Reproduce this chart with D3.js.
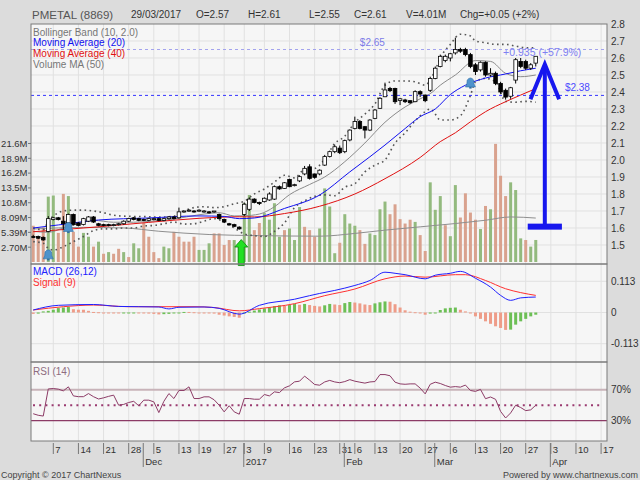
<!DOCTYPE html>
<html>
<head>
<meta charset="utf-8">
<script src="https://cdn.jsdelivr.net/npm/d3@7"></script>
<style>
  body { margin: 0; background: #dcdcdc; }
  svg { display: block; font-family: "Liberation Sans", Arial, sans-serif; }
</style>
</head>
<body>
<svg id="chart" width="640" height="480"></svg>
<script>
// ---------- data ----------
const holidays = ["2016-12-12", "2016-12-26", "2017-01-02", "2017-01-30", "2017-02-01", "2017-02-09"];
const firstDay = "2016-11-01", lastDay = "2017-04-21";
const monthNames = ["Jan","Feb","Mar","Apr","May","Jun","Jul","Aug","Sep","Oct","Nov","Dec"];

const opens = [1.55,1.55,1.545,1.58,1.65,1.66,1.64,1.63,1.68,1.63,
  1.62,1.64,1.665,1.625,1.62,1.62,1.615,1.62,1.625,1.64,
  1.66,1.655,1.65,1.645,1.65,1.655,1.645,1.655,1.665,1.66,
  1.695,1.70,1.70,1.70,1.70,1.695,1.695,1.68,1.65,1.625,
  1.62,1.605,1.68,1.71,1.77,1.75,1.755,1.765,1.77,1.843,
  1.833,1.886,1.85,1.877,1.918,1.96,1.918,1.918,1.97,2.02,
  2.049,2.07,2.049,2.118,2.186,2.226,2.196,2.176,2.245,2.304,
  2.372,2.421,2.421,2.35,2.353,2.349,2.343,2.402,2.382,2.41,
  2.48,2.55,2.585,2.60,2.63,2.65,2.65,2.62,2.56,2.53,
  2.575,2.50,2.51,2.45,2.41,2.375,2.47,2.58,2.58,2.54,
  2.57];
const highs = [1.56,1.555,1.55,1.67,1.665,1.665,1.67,1.685,1.685,1.635,
  1.66,1.67,1.67,1.63,1.625,1.625,1.625,1.63,1.645,1.66,
  1.665,1.66,1.655,1.66,1.66,1.66,1.66,1.67,1.67,1.72,
  1.70,1.71,1.705,1.71,1.705,1.70,1.70,1.685,1.655,1.63,
  1.625,1.61,1.75,1.78,1.775,1.755,1.78,1.81,1.85,1.85,
  1.87,1.89,1.86,1.91,1.965,1.975,1.92,1.945,2.03,2.055,
  2.09,2.085,2.12,2.18,2.255,2.235,2.20,2.24,2.30,2.37,
  2.455,2.43,2.425,2.365,2.36,2.35,2.41,2.41,2.385,2.49,
  2.55,2.62,2.62,2.63,2.72,2.66,2.66,2.63,2.57,2.58,
  2.58,2.54,2.52,2.46,2.42,2.43,2.60,2.60,2.59,2.57,
  2.61];
const lows = [1.54,1.535,1.525,1.575,1.645,1.645,1.59,1.62,1.615,1.61,
  1.615,1.635,1.63,1.61,1.61,1.61,1.61,1.615,1.62,1.635,
  1.645,1.64,1.64,1.64,1.645,1.64,1.64,1.65,1.65,1.655,
  1.69,1.695,1.69,1.695,1.69,1.685,1.69,1.65,1.63,1.615,
  1.605,1.59,1.67,1.70,1.745,1.735,1.75,1.76,1.765,1.825,
  1.83,1.84,1.845,1.87,1.91,1.885,1.89,1.91,1.965,2.015,
  2.04,2.035,2.04,2.11,2.18,2.18,2.127,2.17,2.24,2.30,
  2.37,2.40,2.33,2.323,2.335,2.33,2.34,2.37,2.34,2.40,
  2.475,2.545,2.575,2.58,2.62,2.63,2.61,2.54,2.50,2.52,
  2.49,2.49,2.44,2.39,2.355,2.36,2.45,2.54,2.53,2.53,
  2.55];
const closes = [1.545,1.54,1.53,1.655,1.66,1.65,1.625,1.68,1.62,1.615,
  1.655,1.665,1.635,1.615,1.615,1.615,1.62,1.625,1.64,1.655,
  1.65,1.645,1.645,1.655,1.655,1.645,1.655,1.665,1.655,1.695,
  1.70,1.705,1.695,1.705,1.70,1.69,1.70,1.655,1.635,1.618,
  1.61,1.595,1.74,1.77,1.75,1.745,1.775,1.80,1.843,1.83,
  1.866,1.843,1.855,1.902,1.951,1.892,1.898,1.94,2.02,2.049,
  2.078,2.043,2.114,2.176,2.226,2.186,2.176,2.235,2.294,2.363,
  2.412,2.408,2.343,2.36,2.343,2.337,2.402,2.388,2.349,2.48,
  2.54,2.61,2.61,2.625,2.65,2.64,2.62,2.55,2.52,2.575,
  2.50,2.51,2.45,2.40,2.37,2.425,2.59,2.55,2.54,2.56,
  2.61];

// volume in millions, and bar colour (g = up, r = down)
const volumes = [6.6,4.6,6.3,11.9,12.1,5.3,12.4,12.0,5.5,2.8,
  5.3,4.6,2.8,3.7,1.5,1.8,1.5,2.4,1.8,0.9,
  3.4,2.5,7.1,4.6,1.8,0.7,2.8,2.5,5.5,4.6,
  3.7,3.7,4.6,2.2,2.2,3.4,5.2,5.2,3.1,4.0,
  4.0,3.4,10.7,12.2,5.8,7.1,8.9,7.7,10.7,4.6,
  5.8,6.1,4.0,10.0,6.4,5.8,4.6,6.1,13.4,10.1,
  1.6,3.5,8.7,7.0,6.6,5.8,3.3,5.2,4.9,9.6,
  11.0,8.7,10.5,7.8,7.0,7.7,7.3,4.9,2.0,14.5,
  9.5,12.0,6.7,4.7,14.0,8.1,12.5,9.0,7.7,6.0,
  10.2,9.6,21.5,15.7,12.0,14.5,13.1,4.3,4.0,2.8,
  4.01];
const volColors = "rrrggrrgrr" + "ggrgrgrrgr" + "ggrrrrggrr" + "rrrgggrrrr" + "ggggrrgggg" +
  "rgggrrrggg" + "grgggrrggg" + "grrrrrgrrg" + "ggrggrrrrg" + "rgrrrgggrg" + "g";
const volTickVals = [2.696, 5.393, 8.089, 10.785, 13.482, 16.178, 18.874, 21.571];

// indicator lines as [day index, value]
const volMA50 = [[0,6.0],[10,6.3],[18,6.2],[25,5.6],[35,5.0],[45,4.8],[57,4.7],[64,5.2],[70,5.8],
  [77,6.4],[84,7.0],[90,7.6],[95,8.2],[100,8.0]];
const ma10 = [[0,1.58],[3,1.575],[6,1.60],[9,1.625],[12,1.645],[16,1.634],[20,1.634],[24,1.641],
  [28,1.653],[31,1.668],[34,1.682],[37,1.69],[40,1.671],[42,1.672],[45,1.682],[48,1.725],[51,1.796],
  [55,1.856],[58,1.90],[62,1.99],[66,2.10],[70,2.222],[74,2.312],[77,2.36],[79,2.39],[81,2.44],
  [84,2.50],[88,2.585],[91,2.58],[94,2.51],[97,2.49],[100,2.50]];
const ma20 = [[0,1.60],[5,1.618],[13,1.647],[23,1.659],[33,1.671],[38,1.668],[41,1.655],[44,1.659],
  [50,1.715],[57,1.794],[63,1.93],[67,2.019],[70,2.088],[74,2.185],[77,2.255],[80,2.30],[83,2.385],
  [86,2.44],[90,2.482],[94,2.506],[97,2.525],[100,2.54]];
const ma40 = [[0,1.578],[13,1.607],[23,1.633],[33,1.657],[41,1.666],[44,1.665],[50,1.685],[57,1.728],
  [64,1.80],[70,1.89],[77,2.015],[81,2.108],[84,2.16],[87,2.225],[90,2.284],[94,2.343],[97,2.382],[100,2.42]];
// Bollinger band: [day, upper, lower]
const bollinger = [[0,1.60,1.52],[2,1.59,1.51],[3,1.64,1.48],[4,1.67,1.47],[6,1.70,1.49],[8,1.705,1.52],
  [10,1.705,1.55],[12,1.70,1.585],[14,1.69,1.595],[16,1.675,1.595],[18,1.67,1.60],[20,1.668,1.60],
  [22,1.667,1.612],[24,1.665,1.615],[26,1.665,1.625],[28,1.67,1.635],[30,1.70,1.623],[32,1.72,1.625],
  [34,1.725,1.64],[36,1.72,1.655],[38,1.725,1.635],[40,1.743,1.60],[42,1.757,1.565],[44,1.80,1.555],
  [46,1.83,1.55],[48,1.87,1.58],[50,1.91,1.63],[52,1.895,1.72],[54,1.945,1.76],[56,1.95,1.786],
  [58,2.005,1.795],[60,2.097,1.79],[62,2.14,1.84],[64,2.22,1.86],[66,2.27,1.93],[68,2.33,1.97],
  [70,2.44,2.00],[72,2.465,2.10],[74,2.465,2.16],[76,2.46,2.23],[78,2.44,2.285],[79,2.47,2.30],
  [80,2.53,2.27],[81,2.60,2.235],[83,2.68,2.235],[85,2.74,2.26],[87,2.73,2.38],[88,2.70,2.46],
  [90,2.69,2.48],[92,2.68,2.46],[94,2.68,2.345],[96,2.67,2.34],[98,2.66,2.345],[100,2.66,2.34]];

const macdLine = [[0,0.009],[5,0.026],[12,0.029],[17,0.022],[25,0.02],[27,0.013],[29,0.019],[34,0.02],
  [37,0.015],[41,-0.006],[45,0.026],[52,0.048],[55,0.061],[57,0.069],[60,0.08],[64,0.098],[67,0.116],
  [70,0.146],[72,0.142],[74,0.137],[78,0.122],[80,0.135],[83,0.142],[85,0.149],[88,0.124],[91,0.092],
  [93,0.062],[95,0.044],[97,0.053],[100,0.056]];
const signalLine = [[0,0.009],[6,0.021],[12,0.027],[19,0.021],[32,0.021],[36,0.018],[41,0.006],
  [45,0.014],[52,0.032],[58,0.061],[64,0.085],[70,0.122],[74,0.132],[78,0.128],[84,0.137],[86,0.137],
  [90,0.116],[94,0.086],[97,0.072],[100,0.062]];
const macdHist = [-0.005,-0.004,0.004,0.006,0.01,0.016,0.018,0.02,0.012,0.01,
  0.01,0.006,0.002,0.001,-0.001,-0.002,-0.002,-0.003,-0.002,-0.001,
  0.0,-0.002,-0.003,-0.004,-0.005,-0.007,-0.006,-0.005,-0.003,0.0,
  0.002,0.002,0.001,0.0,-0.001,-0.002,-0.004,-0.008,-0.011,-0.014,
  -0.016,-0.019,-0.004,0.003,0.007,0.011,0.015,0.019,0.023,0.026,
  0.024,0.027,0.031,0.028,0.031,0.027,0.024,0.022,0.026,0.031,
  0.029,0.027,0.034,0.038,0.036,0.033,0.029,0.027,0.033,0.037,
  0.040,0.039,0.030,0.018,0.008,0.003,0.001,-0.001,-0.008,-0.004,
  0.0,0.009,0.015,0.017,0.018,0.01,0.004,-0.002,-0.014,-0.023,
  -0.032,-0.041,-0.05,-0.056,-0.063,-0.062,-0.044,-0.032,-0.023,-0.014,
  -0.008];
const rsi = [39,37,36,71,71.5,70.7,68.5,73.7,62,61,
  61,65,61,58,59.5,61.4,63,50,51,53.5,
  55,49.3,56.5,56.5,54.3,40.5,55,65,58.6,69,
  69,73.7,58.6,58.6,60.8,60.8,57,50,41.4,49.3,
  41.4,38.4,58.6,58.6,57.7,57.7,63.8,62,67.2,66.3,
  72.4,75,80.1,81,87.5,82.3,76.7,75.8,80,82,
  80,79,80.5,83,81,79.7,78.5,80,80.5,89.5,
  89.5,88,79.7,77.5,77,77.5,77.5,72,64.6,77,
  79.7,78,75.4,73.3,74,73.3,76,69,67.8,70.4,
  58.4,60.6,57.6,42,33.5,40,50,47,43,44,
  50];

const priceTicks = [1.5,1.6,1.7,1.8,1.9,2.0,2.1,2.2,2.3,2.4,2.5,2.6,2.7,2.8];
const macdTicks = [0.113, 0, -0.113];
const rsiTicks = [70, 30];
const headerTitle = "PMETAL (8869)";
const headerItems = ["29/03/2017", "O=2.57", "H=2.61", "L=2.55", "C=2.61", "V=4.01M", "Chg=+0.05 (+2%)"];
const priceLevels = [{v: 2.65, label: "$2.65", at: 65}, {v: 2.38, label: "$2.38", at: 105.8}];
const bells = [[3, 1.445], [7, 1.606], [87, 2.456]];        // alert icons [day, price]
const gainText = {text: "+0.935 (+57.9%)", at: 93.5, v: 2.612};
const bigArrow = {at: 101.8, low: 1.608, high: 2.563, wing: 2.357, half: 2.85};
const greenArrow = {at: 41.4, tip: 1.532};

// ---------- layout ----------
const L = 31, R = 607;
const mainTop = 24, mainBot = 264, macdBot = 362, rsiBot = 441;

const svg = d3.select("#chart");
const x = d3.scaleLinear().domain([0, 113]).range([33.2, 601.1]);
const yP = d3.scaleLinear().domain([1.5, 2.8]).range([245, 24]);
const yV = d3.scaleLinear().domain([0, 21.57]).range([262, 143.5]);
const yM = d3.scaleLinear().domain([-0.113, 0.113]).range([343.7, 281.3]);
const yR = d3.scaleLinear().domain([30, 70]).range([420.7, 389.7]);

// trading calendar (weekends and exchange holidays skipped)
const days = [];
for (let d = new Date(firstDay + "T00:00:00Z"); d <= new Date(lastDay + "T00:00:00Z"); d = new Date(d.getTime() + 864e5)) {
  const wd = d.getUTCDay();
  if (wd === 0 || wd === 6 || holidays.includes(d.toISOString().slice(0, 10))) continue;
  days.push(d);
}
const weekTicks = [], monthTicks = [];
days.forEach((d, i) => {
  if (i === 0) return;
  const p = days[i - 1];
  if (d.getUTCDay() < p.getUTCDay() || d - p >= 7 * 864e5) weekTicks.push({i, label: d.getUTCDate()});
  if (d.getUTCMonth() !== p.getUTCMonth())
    monthTicks.push({i, label: d.getUTCMonth() === 0 ? String(d.getUTCFullYear()) : monthNames[d.getUTCMonth()]});
});

svg.append("rect").attr("width", 640).attr("height", 480).attr("fill", "#dcdcdc");

// panels
[[mainTop, mainBot], [mainBot, macdBot], [macdBot, rsiBot]].forEach(([t, b]) => {
  svg.append("rect").attr("x", L).attr("y", t).attr("width", R - L).attr("height", b - t)
    .attr("fill", "#f6f6f6");
});

const grid = svg.append("g").attr("stroke", "#e1e1e1").attr("stroke-width", 1);
weekTicks.forEach(t => {
  grid.append("line").attr("x1", x(t.i)).attr("x2", x(t.i)).attr("y1", mainTop).attr("y2", rsiBot);
});
priceTicks.slice(0, -1).forEach(v => {
  grid.append("line").attr("x1", L).attr("x2", R).attr("y1", yP(v)).attr("y2", yP(v));
});
macdTicks.forEach(v => {
  grid.append("line").attr("x1", L).attr("x2", R).attr("y1", yM(v)).attr("y2", yM(v));
});

svg.append("clipPath").attr("id", "mainClip").append("rect")
  .attr("x", L).attr("y", mainTop).attr("width", R - L).attr("height", mainBot - mainTop);
const main = svg.append("g").attr("clip-path", "url(#mainClip)");

// volume bars
main.append("g").selectAll("rect").data(volumes).join("rect")
  .attr("x", (d, i) => x(i) - 1.5).attr("width", 3)
  .attr("y", d => yV(d)).attr("height", d => yV(0) - yV(d))
  .attr("fill", (d, i) => volColors[i] === "g" ? "#93ba7e" : "#d9a28e");

const lineP = d3.line().x(d => x(d[0])).y(d => yP(d[1])).curve(d3.curveMonotoneX);

main.append("path").datum(volMA50)
  .attr("d", d3.line().x(d => x(d[0])).y(d => yV(d[1])).curve(d3.curveMonotoneX))
  .attr("fill", "none").attr("stroke", "#8f8f8f").attr("stroke-width", 1);

// Bollinger band
[1, 2].forEach(k => {
  main.append("path").datum(bollinger.map(d => [d[0], d[k]]))
    .attr("d", lineP).attr("fill", "none").attr("stroke", "#555")
    .attr("stroke-width", 1.6).attr("stroke-dasharray", "1.6,3.4");
});
main.append("path").datum(ma10).attr("d", lineP).attr("fill", "none").attr("stroke", "#8a8a8a").attr("stroke-width", 1);
main.append("path").datum(ma40).attr("d", lineP).attr("fill", "none").attr("stroke", "#e01010").attr("stroke-width", 1);
main.append("path").datum(ma20).attr("d", lineP).attr("fill", "none").attr("stroke", "#1010f0").attr("stroke-width", 1);

// price level lines
priceLevels.forEach((lv, k) => {
  const col = k === 0 ? "#a3a3ee" : "#3535ff";
  main.append("line").attr("x1", L).attr("x2", R).attr("y1", yP(lv.v)).attr("y2", yP(lv.v))
    .attr("stroke", col).attr("stroke-dasharray", "3,3");
  main.append("text").attr("x", x(lv.at)).attr("y", yP(lv.v) - 4).text(lv.label)
    .attr("font-size", 10).attr("fill", k === 0 ? "#7b7be8" : "#4a4aff");
});

// candles
const candles = main.append("g");
closes.forEach((c, i) => {
  const o = opens[i], up = c >= o, cx = x(i);
  candles.append("line").attr("x1", cx).attr("x2", cx).attr("y1", yP(highs[i])).attr("y2", yP(lows[i]))
    .attr("stroke", "#000").attr("stroke-width", 1);
  const top = yP(Math.max(o, c)), h = Math.max(1, Math.abs(yP(o) - yP(c)));
  candles.append("rect").attr("x", cx - 1.8).attr("y", top).attr("width", 3.6).attr("height", h)
    .attr("fill", up ? "#fff" : "#000").attr("stroke", "#000").attr("stroke-width", 0.8);
});

// alert bells
bells.forEach(([i, v]) => {
  const g = main.append("g").attr("transform", `translate(${x(i)},${yP(v)})`);
  g.append("path").attr("d", "M-5,4.5 L5,4.5 L3.6,1.5 L3.2,-2.5 Q0,-6.5 -3.2,-2.5 L-3.6,1.5 Z")
    .attr("fill", "#4f93cc").attr("stroke", "#2f6fa6").attr("stroke-width", 0.6);
  g.append("rect").attr("x", -1.2).attr("y", 4.5).attr("width", 2.4).attr("height", 1.6).attr("fill", "#2f6fa6");
});

// gain annotation
main.append("text").attr("x", x(gainText.at)).attr("y", yP(gainText.v)).text(gainText.text)
  .attr("font-size", 10.5).attr("fill", "#8080f2");
const ax = x(bigArrow.at), dx = x(bigArrow.at + bigArrow.half) - ax;
const ba = main.append("g").attr("stroke", "#1717ee").attr("stroke-width", 4).attr("fill", "none");
ba.append("line").attr("x1", ax).attr("x2", ax).attr("y1", yP(bigArrow.low)).attr("y2", yP(bigArrow.high) + 2);
ba.append("path").attr("d", `M${ax - dx},${yP(bigArrow.wing)} L${ax},${yP(bigArrow.high)} L${ax + dx},${yP(bigArrow.wing)}`)
  .attr("stroke-linejoin", "miter");
main.append("rect").attr("x", x(bigArrow.at - 3.4)).attr("y", yP(bigArrow.low) - 3)
  .attr("width", x(bigArrow.at + 3.4) - x(bigArrow.at - 3.4)).attr("height", 6).attr("fill", "#1717ee");

// legend
[["Bollinger Band (10, 2.0)", "#777"], ["Moving Average (20)", "#1010f0"],
 ["Moving Average (40)", "#e01010"], ["Volume MA (50)", "#777"]].forEach(([t, c], k) => {
  svg.append("text").attr("x", 33).attr("y", 35.5 + k * 10.8).text(t).attr("font-size", 10).attr("fill", c);
});

// MACD panel
svg.append("g").selectAll("rect").data(macdHist).join("rect")
  .attr("x", (d, i) => x(i) - 1.5).attr("width", 3)
  .attr("y", d => Math.min(yM(d), yM(0))).attr("height", d => Math.max(1, Math.abs(yM(d) - yM(0))))
  .attr("fill", (d, i) => i > 0 && d > macdHist[i - 1] ? "#6cbf55" : (i === 0 ? "#ee9c88" : "#ee9c88"));
const lineM = d3.line().x(d => x(d[0])).y(d => yM(d[1])).curve(d3.curveMonotoneX);
svg.append("path").datum(signalLine).attr("d", lineM).attr("fill", "none").attr("stroke", "#ff3030").attr("stroke-width", 1);
svg.append("path").datum(macdLine).attr("d", lineM).attr("fill", "none").attr("stroke", "#2020ff").attr("stroke-width", 1);
svg.append("text").attr("x", 33).attr("y", 274.5).text("MACD (26,12)").attr("font-size", 10).attr("fill", "#2020ff");
svg.append("text").attr("x", 33).attr("y", 285.5).text("Signal (9)").attr("font-size", 10).attr("fill", "#ff3030");

// RSI panel
svg.append("line").attr("x1", L).attr("x2", R).attr("y1", yR(70)).attr("y2", yR(70))
  .attr("stroke", "#c8b3b9").attr("stroke-width", 2);
svg.append("line").attr("x1", L).attr("x2", R).attr("y1", yR(30)).attr("y2", yR(30))
  .attr("stroke", "#8c3b66").attr("stroke-width", 1.3);
svg.append("line").attr("x1", L + 2).attr("x2", R - 4).attr("y1", yR(50)).attr("y2", yR(50))
  .attr("stroke", "#9a3a70").attr("stroke-width", 2).attr("stroke-dasharray", "2,4.2");
svg.append("path").datum(rsi)
  .attr("d", d3.line().x((d, i) => x(i)).y(d => yR(d)))
  .attr("fill", "none").attr("stroke", "#8c3b66").attr("stroke-width", 1);
svg.append("text").attr("x", 33).attr("y", 374.5).text("RSI (14)").attr("font-size", 10).attr("fill", "#8e6c7e");

// green arrow (drawn over the panel border)
const gx = x(greenArrow.at), gy = yP(greenArrow.tip);
svg.append("path")
  .attr("d", `M${gx},${gy} L${gx + 6.5},${gy + 7.5} L${gx + 3},${gy + 7.5} L${gx + 3},${gy + 26} L${gx - 3},${gy + 26} L${gx - 3},${gy + 7.5} L${gx - 6.5},${gy + 7.5} Z`)
  .attr("fill", "#22e022").attr("stroke", "#0c8a0c").attr("stroke-width", 0.8);

// panel borders
[[mainTop, mainBot], [mainBot, macdBot], [macdBot, rsiBot]].forEach(([t, b]) => {
  svg.append("rect").attr("x", L).attr("y", t).attr("width", R - L).attr("height", b - t)
    .attr("fill", "none").attr("stroke", "#7a7a7a").attr("stroke-width", 1);
});

// right axes
const axisText = svg.append("g").attr("font-size", 10).attr("fill", "#333");
priceTicks.forEach(v => {
  axisText.append("text").attr("x", 611).attr("y", yP(v)).attr("dy", "0.35em").text(v.toFixed(1));
});
macdTicks.forEach(v => {
  axisText.append("text").attr("x", 611).attr("y", yM(v)).attr("dy", "0.35em").text(v === 0 ? "0" : v.toFixed(3));
});
rsiTicks.forEach(v => {
  axisText.append("text").attr("x", 611).attr("y", yR(v)).attr("dy", "0.35em").text(v + "%");
});

// left volume axis
volTickVals.forEach(v => {
  axisText.append("text").attr("x", 27.5).attr("y", yV(v)).attr("dy", "0.35em").attr("text-anchor", "end")
    .attr("font-size", 9.5).text((v < 10 ? v.toFixed(2) : v.toFixed(1)) + "M");
  svg.append("line").attr("x1", 28).attr("x2", L).attr("y1", yV(v)).attr("y2", yV(v)).attr("stroke", "#777");
});

// date axis
const xa = svg.append("g");
weekTicks.forEach(t => {
  xa.append("line").attr("x1", x(t.i)).attr("x2", x(t.i)).attr("y1", rsiBot + 2).attr("y2", rsiBot + 13)
    .attr("stroke", "#777");
  xa.append("text").attr("x", x(t.i) + 2).attr("y", rsiBot + 12).text(t.label)
    .attr("font-size", 9.5).attr("fill", "#333");
});
monthTicks.forEach(t => {
  xa.append("line").attr("x1", x(t.i) - 0.5).attr("x2", x(t.i) - 0.5).attr("y1", rsiBot + 2).attr("y2", rsiBot + 26)
    .attr("stroke", "#777");
  xa.append("text").attr("x", x(t.i) + 1.5).attr("y", rsiBot + 23.5).text(t.label)
    .attr("font-size", 9.5).attr("fill", "#333");
});

// header
svg.append("text").attr("x", 32).attr("y", 18.5).text(headerTitle).attr("font-size", 11.5).attr("fill", "#555");
[131, 196, 248, 309, 354, 406, 460].forEach((px, k) => {
  svg.append("text").attr("x", px).attr("y", 17.5).text(headerItems[k]).attr("font-size", 10).attr("fill", "#333");
});

// footer
svg.append("text").attr("x", 1).attr("y", 478).text("Copyright © 2017 ChartNexus").attr("font-size", 9).attr("fill", "#444");
svg.append("text").attr("x", 638).attr("y", 478).attr("text-anchor", "end").text("Powered by www.chartnexus.com")
  .attr("font-size", 9).attr("fill", "#444");
</script>
</body>
</html>
